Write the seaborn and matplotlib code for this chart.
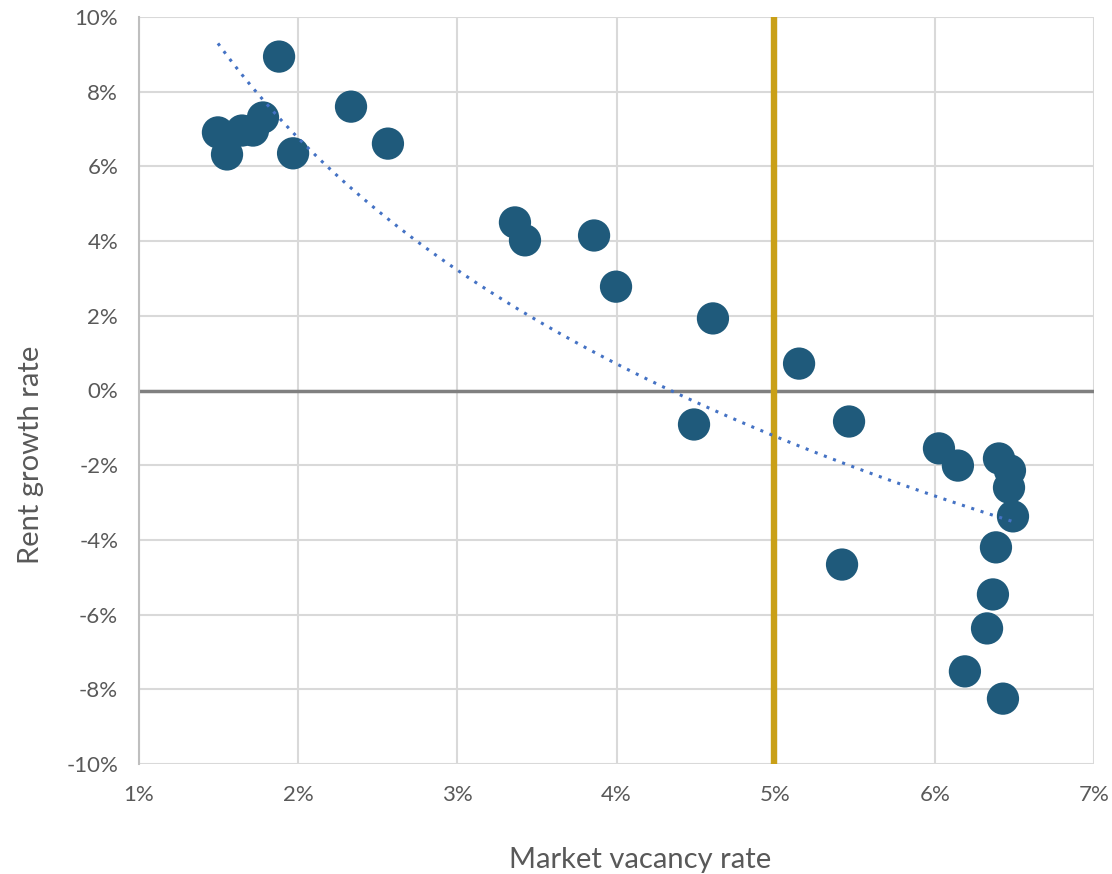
import matplotlib
matplotlib.use("Agg")
import matplotlib.pyplot as plt
import seaborn as sns
import numpy as np
import pandas as pd
from matplotlib.ticker import FuncFormatter, MultipleLocator

vacancy = [1.496, 1.553, 1.647, 1.716, 1.779, 1.880, 1.968, 2.332, 2.564,
           3.362, 3.425, 3.859, 3.997, 4.606, 4.487, 5.147, 5.461, 5.417,
           6.026, 6.145, 6.403, 6.472, 6.466, 6.491, 6.384, 6.365, 6.328,
           6.189, 6.428]
rent_growth = [6.91, 6.32, 6.96, 6.96, 7.31, 8.94, 6.35, 7.60, 6.61,
               4.50, 4.02, 4.15, 2.78, 1.93, -0.91, 0.72, -0.83, -4.66,
               -1.55, -2.01, -1.82, -2.14, -2.60, -3.37, -4.20, -5.46, -6.37,
               -7.52, -8.25]
threshold = 4.99
x_label = "Market vacancy rate"
y_label = "Rent growth rate"

df = pd.DataFrame({"vacancy": vacancy, "rent": rent_growth})

sns.set_theme(style="white")
plt.rcParams['font.family'] = ['Lato', 'DejaVu Sans']

fig = plt.figure(figsize=(11.12, 8.74), dpi=100)
ax = fig.add_axes([139/1112, 1-764/874, (1094-139)/1112, (764-17)/874])

ax.set_xlim(1, 7)
ax.set_ylim(-10, 10)
ax.xaxis.set_major_locator(MultipleLocator(1))
ax.yaxis.set_major_locator(MultipleLocator(2))
ax.xaxis.set_major_formatter(FuncFormatter(lambda v, p: f"{v:.0f}%"))
ax.yaxis.set_major_formatter(FuncFormatter(lambda v, p: f"{v:.0f}%"))
ax.grid(True, color="#D9D9D9", linewidth=1.5, zorder=0)
ax.set_axisbelow(True)
for s in ["top", "right", "bottom"]:
    ax.spines[s].set_visible(False)
ax.spines["left"].set_color("#BFBFBF")
ax.spines["left"].set_linewidth(1.5)
ax.tick_params(axis="both", length=0, labelsize=16, colors="#595959")
ax.tick_params(axis="x", pad=15)
ax.tick_params(axis="y", pad=15)

ax.axhline(0, color="#808080", linewidth=2.5, zorder=1)
ax.axvline(threshold, color="#C9A017", linewidth=4.6, zorder=2)

sns.scatterplot(data=df, x="vacancy", y="rent", ax=ax, s=540,
                color="#1F5A7B", edgecolor="none", zorder=3, legend=False)
sns.regplot(data=df, x="vacancy", y="rent", ax=ax, logx=True, scatter=False,
            ci=None, truncate=True,
            line_kws=dict(color="#4472C4", linestyle=(0, (1, 2.2)), linewidth=2.2, zorder=4))

ax.set_xlabel("")
ax.set_ylabel("")
fig.text(640/1112, 1-868/874, x_label, ha="center", va="baseline", fontsize=21, color="#595959")
fig.text(31/1112, 1-455/874, y_label, ha="center", va="center", rotation=90, fontsize=21, color="#595959")

fig.savefig("out.png", dpi=100)
